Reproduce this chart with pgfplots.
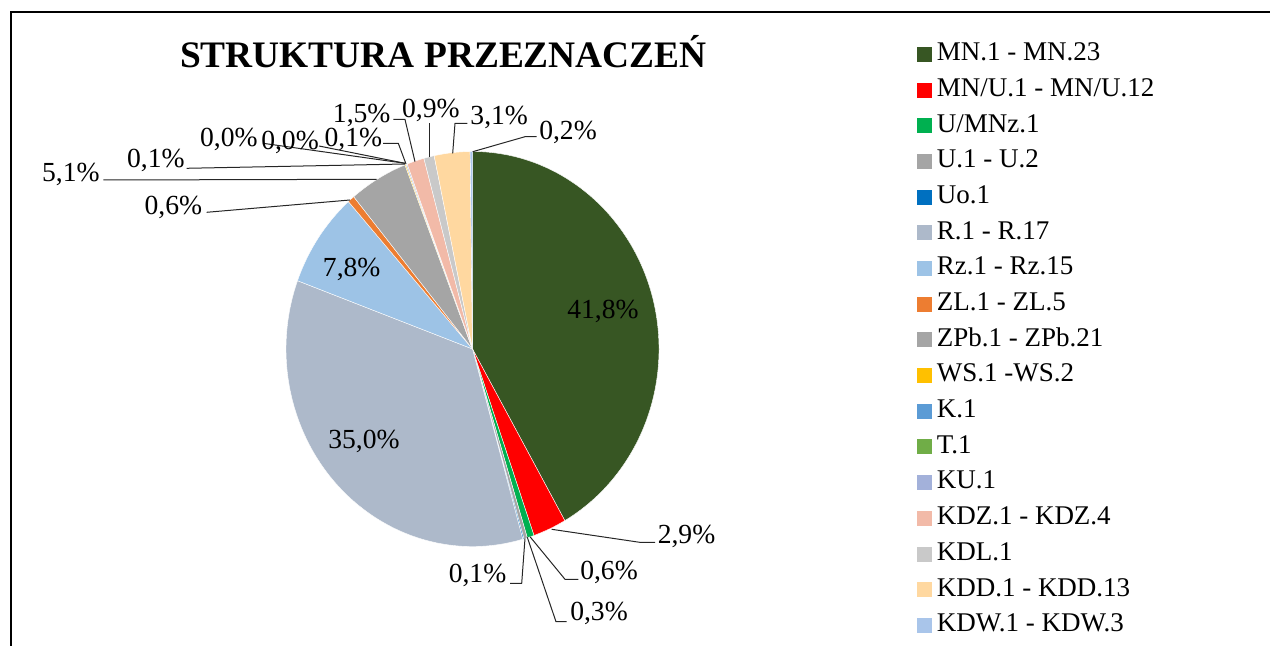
\documentclass[border=0pt]{standalone}
\usepackage{pgfplots}
\usepackage{pgfplotstable}
\pgfplotsset{compat=1.18}
\usepackage{fontspec}
\setmainfont{Liberation Serif}

\definecolor{c0}{HTML}{375623}
\definecolor{c1}{HTML}{FF0000}
\definecolor{c2}{HTML}{00B050}
\definecolor{c3}{HTML}{A5A5A5}
\definecolor{c4}{HTML}{0070C0}
\definecolor{c5}{HTML}{ADB9CA}
\definecolor{c6}{HTML}{9DC3E6}
\definecolor{c7}{HTML}{ED7D31}
\definecolor{c8}{HTML}{A5A5A5}
\definecolor{c9}{HTML}{FFC000}
\definecolor{c10}{HTML}{5B9BD5}
\definecolor{c11}{HTML}{70AD47}
\definecolor{c12}{HTML}{A3B1DA}
\definecolor{c13}{HTML}{F2BAA8}
\definecolor{c14}{HTML}{C9C9C9}
\definecolor{c15}{HTML}{FFD8A0}
\definecolor{c16}{HTML}{A9C5EA}

% shares in percent, clockwise from 12 o'clock
\pgfplotstableread{
v
41.8
2.9
0.6
0.3
0.1
35.0
7.8
0.6
5.1
0.1
0.0
0.0
0.1
1.5
0.9
3.1
0.2
}\piedata

\begin{document}
\begin{tikzpicture}
\useasboundingbox (0,0) rectangle (637.5pt,323pt);
\begin{axis}[
  at={(0,0)}, anchor=south west,
  width=637.5pt, height=323pt, scale only axis,
  xmin=0, xmax=1275, ymin=0, ymax=646, y dir=reverse,
  hide axis, clip=false,
  legend image code/.code={\fill[#1] (0pt,-3.5pt) rectangle (7pt,3.5pt);},
  legend cell align=left,
  legend style={at={(axis cs:917,42)}, anchor=north west, draw=none, fill=none,
    inner sep=0pt, outer sep=0pt,
    font=\fontsize{13.5}{16}\selectfont,
    row sep=5.65pt, column sep=2.5pt,
    nodes={inner sep=0pt, text height=9.3pt, text depth=2.9pt}},
]
% total
\def\total{0}
\pgfplotsforeachungrouped \i in {0,...,16} {%
  \pgfplotstablegetelem{\i}{v}\of\piedata
  \pgfmathsetmacro\total{\total+\pgfplotsretval}%
}
% sectors
\def\cum{0}
\pgfplotsforeachungrouped \i in {0,...,16} {%
  \pgfplotstablegetelem{\i}{v}\of\piedata
  \pgfmathsetmacro\a{90-360*(\cum/\total)}%
  \pgfmathsetmacro\cum{\cum+\pgfplotsretval}%
  \pgfmathsetmacro\b{90-360*(\cum/\total)}%
  \edef\temp{\noexpand\fill[c\i, draw=white, line width=0.2pt] (axis cs:472.5,349) -- ([shift={(\a:93.25pt and 98.75pt)}]axis cs:472.5,349) arc[start angle=\a, end angle=\b, x radius=93.25pt, y radius=98.75pt] -- cycle;}%
  \temp
}

\addlegendimage{c0}\addlegendentry{MN.1 - MN.23}
\addlegendimage{c1}\addlegendentry{MN/U.1 - MN/U.12}
\addlegendimage{c2}\addlegendentry{U/MNz.1}
\addlegendimage{c3}\addlegendentry{U.1 - U.2}
\addlegendimage{c4}\addlegendentry{Uo.1}
\addlegendimage{c5}\addlegendentry{R.1 - R.17}
\addlegendimage{c6}\addlegendentry{Rz.1 - Rz.15}
\addlegendimage{c7}\addlegendentry{ZL.1 - ZL.5}
\addlegendimage{c8}\addlegendentry{ZPb.1 - ZPb.21}
\addlegendimage{c9}\addlegendentry{WS.1 -WS.2}
\addlegendimage{c10}\addlegendentry{K.1}
\addlegendimage{c11}\addlegendentry{T.1}
\addlegendimage{c12}\addlegendentry{KU.1}
\addlegendimage{c13}\addlegendentry{KDZ.1 - KDZ.4}
\addlegendimage{c14}\addlegendentry{KDL.1}
\addlegendimage{c15}\addlegendentry{KDD.1 - KDD.13}
\addlegendimage{c16}\addlegendentry{KDW.1 - KDW.3}

% frame
\draw[line width=1pt] (axis cs:11,646) -- (axis cs:11,12) -- (axis cs:1270,12);
% title
\node[anchor=base, font=\fontsize{18.7}{22}\selectfont\bfseries] at (axis cs:443.5,68) {STRUKTURA PRZEZNACZEŃ};

% leader lines
\begin{scope}[line width=0.5pt, black!85]
\draw (axis cs:551.7,529.3) -- (axis cs:641,542.5) -- (axis cs:655,542.5);
\draw (axis cs:530,536.7) -- (axis cs:565,579.3) -- (axis cs:578.3,579.3);
\draw (axis cs:527.3,537.3) -- (axis cs:556,621.7) -- (axis cs:566.7,621.7);
\draw (axis cs:525,538.3) -- (axis cs:521.7,583.3) -- (axis cs:510,583.3);
\draw (axis cs:206.7,212.3) -- (axis cs:350,200);
\draw (axis cs:103.3,180) -- (axis cs:376.7,179.3);
\draw (axis cs:186.7,168.3) -- (axis cs:405,164);
\draw (axis cs:263,143.3) -- (axis cs:405,163.3);
\draw (axis cs:319,146) -- (axis cs:405,163.3);
\draw (axis cs:383,143.3) -- (axis cs:398.3,143.3) -- (axis cs:406,164);
\draw (axis cs:393.3,119.5) -- (axis cs:405,119.5) -- (axis cs:415,161.7);
\draw (axis cs:429.3,123.3) -- (axis cs:429.3,156.7);
\draw (axis cs:467.3,123.3) -- (axis cs:455,123.3) -- (axis cs:452.7,153.3);
\draw (axis cs:536.7,136.7) -- (axis cs:525,136.7) -- (axis cs:472.7,151.7);
\end{scope}

% data labels
\begin{scope}[every node/.style={anchor=base, inner sep=0pt, font=\fontsize{13.8}{16}\selectfont}]
\node at (axis cs:603,319) {41,8\%};
\node at (axis cs:364,449) {35,0\%};
\node at (axis cs:351.7,277) {7,8\%};
\node at (axis cs:686.5,543.5) {2,9\%};
\node at (axis cs:609,579.5) {0,6\%};
\node at (axis cs:599,620.7) {0,3\%};
\node at (axis cs:477.5,582.7) {0,1\%};
\node at (axis cs:173.3,214.5) {0,6\%};
\node at (axis cs:70.8,181.5) {5,1\%};
\node at (axis cs:155.8,168) {0,1\%};
\node at (axis cs:228.8,146.5) {0,0\%};
\node at (axis cs:290,150) {0,0\%};
\node at (axis cs:353.3,147) {0,1\%};
\node at (axis cs:361.7,123) {1,5\%};
\node at (axis cs:430.8,117.5) {0,9\%};
\node at (axis cs:499.2,124.3) {3,1\%};
\node at (axis cs:568,139.3) {0,2\%};
\end{scope}
\end{axis}
\end{tikzpicture}
\end{document}
